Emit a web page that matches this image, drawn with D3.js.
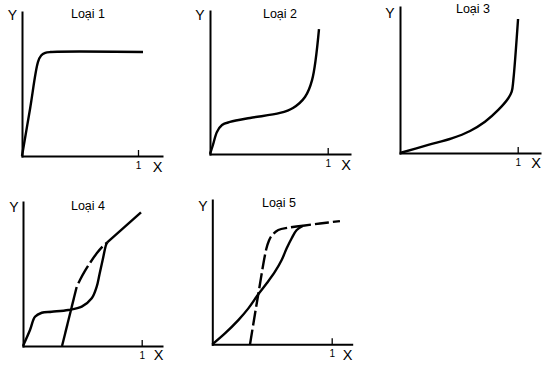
<!DOCTYPE html>
<html>
<head>
<meta charset="utf-8">
<script src="https://cdn.jsdelivr.net/npm/d3@7"></script>
<style>
  html, body { margin: 0; padding: 0; background: #fff; }
  svg { display: block; }
  text { font-family: "Liberation Sans", Arial, Helvetica, sans-serif; fill: #000; }
</style>
</head>
<body>
<svg id="chart" width="546" height="367"></svg>
<script>
// ---------- data ----------
const titles = ["Loại 1", "Loại 2", "Loại 3", "Loại 4", "Loại 5"];
const xAxisLabel = "X";
const yAxisLabel = "Y";
const xTickValues = [1];
const xTickLabels = ["1"];

// relative pressure X vs adsorbed amount Y
const type1Curve = [[0,0],[0.07,0.33],[0.138,0.653],[0.165,0.698],[0.2,0.716],[0.245,0.722],[1.043,0.722]];
const type2Curve = [[0,0],[0.025,0.063],[0.059,0.154],[0.102,0.203],[0.17,0.224],[0.34,0.252],[0.595,0.287],[0.705,0.322],[0.807,0.399],[0.867,0.517],[0.926,0.874]];
const type3Curve = [[0,0],[0.24,0.055],[0.439,0.1],[0.595,0.151],[0.722,0.214],[0.835,0.295],[0.92,0.375],[0.949,0.42],[0.963,0.5],[1.003,0.918]];
const type4Adsorption = [[0,0],[0.059,0.111],[0.101,0.203],[0.158,0.231],[0.242,0.238],[0.382,0.25],[0.495,0.273],[0.579,0.331],[0.621,0.412],[0.645,0.5],[0.671,0.597],[0.699,0.701],[0.71,0.72]];
const type4Upper = [[0.71,0.72],[0.994,0.928]];
const type4DesorptionSolid = [[0.329,0],[0.452,0.41]];
const type4DesorptionDashed = [[0.452,0.41],[0.48,0.458],[0.522,0.521],[0.564,0.576],[0.623,0.646],[0.674,0.694],[0.71,0.72]];
const type5Adsorption = [[0,0],[0.106,0.076],[0.218,0.168],[0.302,0.249],[0.385,0.347],[0.456,0.423],[0.525,0.503],[0.581,0.584],[0.623,0.665],[0.665,0.735],[0.707,0.792],[0.76,0.822]];
const type5Desorption = [[0.316,0],[0.385,0.347],[0.452,0.66],[0.475,0.72],[0.497,0.752],[0.553,0.792],[0.637,0.808],[0.76,0.822]];
const type5Tail = [[0.76,0.822],[0.902,0.837],[1.069,0.854]];

// ---------- layout ----------
const panels = [
  { ox: 22,    oy: 156,   xEnd: 162,   top: 12,  tickX: 138,   titleX: 88,  titleY: 18,  yLabX: 12.5, yLabY: 20,  xLabX: 157.5, xLabY: 172,
    curves: [{ data: type1Curve }] },
  { ox: 210,   oy: 154,   xEnd: 350,   top: 11,  tickX: 327.7, titleX: 280, titleY: 18,  yLabX: 200,  yLabY: 20,  xLabX: 346,   xLabY: 170,
    curves: [{ data: type2Curve }] },
  { ox: 400,   oy: 153,   xEnd: 540,   top: 7,   tickX: 517.7, titleX: 473, titleY: 13,  yLabX: 390,  yLabY: 18,  xLabX: 536,   xLabY: 168,
    curves: [{ data: type3Curve }] },
  { ox: 23,    oy: 346,   xEnd: 162,   top: 202, tickX: 141.7, titleX: 88,  titleY: 210, yLabX: 14,   yLabY: 212, xLabX: 158.5, xLabY: 360,
    curves: [{ data: type4Adsorption }, { data: type4Upper, linear: true }, { data: type4DesorptionSolid, linear: true }, { data: type4DesorptionDashed, dash: "20,4", offset: 20 }] },
  { ox: 212.3, oy: 344.3, xEnd: 351.7, top: 200, tickX: 331.7, titleX: 279, titleY: 207, yLabX: 203,  yLabY: 211, xLabX: 347.5, xLabY: 360,
    curves: [{ data: type5Adsorption }, { data: type5Desorption, dash: "15,4" }, { data: type5Tail, dash: "14,4", offset: 6 }] }
];

const svg = d3.select("#chart");

panels.forEach((p, i) => {
  const xMax = (p.xEnd - p.ox) / (p.tickX - p.ox);
  const x = d3.scaleLinear().domain([0, xMax]).range([p.ox, p.xEnd]);
  const y = d3.scaleLinear().domain([0, 1]).range([p.oy, p.top]);
  const g = svg.append("g");

  // x axis
  const xAxis = d3.axisBottom(x)
    .tickValues(xTickValues)
    .tickFormat((d, k) => xTickLabels[k])
    .tickSizeInner(-6)
    .tickSizeOuter(0)
    .tickPadding(6);
  const gx = g.append("g").attr("transform", `translate(0,${p.oy})`).call(xAxis);
  gx.select(".domain").attr("stroke", "#000").attr("stroke-width", 2).attr("stroke-linecap", "square");
  gx.selectAll(".tick line").attr("stroke", "#000").attr("stroke-width", 1.3);
  gx.selectAll(".tick text").attr("font-size", 10).attr("fill", "#000")
    .attr("font-family", "Liberation Sans, Arial, sans-serif");

  // y axis
  const yAxis = d3.axisLeft(y).tickValues([]).tickSizeOuter(0);
  const gy = g.append("g").attr("transform", `translate(${p.ox},0)`).call(yAxis);
  gy.select(".domain").attr("stroke", "#000").attr("stroke-width", 2).attr("stroke-linecap", "square");

  // labels
  g.append("text").attr("x", p.titleX).attr("y", p.titleY).attr("text-anchor", "middle")
    .attr("font-size", 12.5).text(titles[i]);
  g.append("text").attr("x", p.yLabX).attr("y", p.yLabY).attr("text-anchor", "middle")
    .attr("font-size", 14).text(yAxisLabel);
  g.append("text").attr("x", p.xLabX).attr("y", p.xLabY).attr("text-anchor", "middle")
    .attr("font-size", 14.5).text(xAxisLabel);

  // curves
  p.curves.forEach(c => {
    const line = d3.line().x(d => x(d[0])).y(d => y(d[1]))
      .curve(c.linear ? d3.curveLinear : d3.curveCatmullRom.alpha(0.5));
    g.append("path")
      .attr("d", line(c.data))
      .attr("fill", "none")
      .attr("stroke", "#000")
      .attr("stroke-width", 2.4)
      .attr("stroke-linejoin", "round")
      .attr("stroke-dasharray", c.dash || null)
      .attr("stroke-dashoffset", c.offset || 0);
  });
});
</script>
</body>
</html>
